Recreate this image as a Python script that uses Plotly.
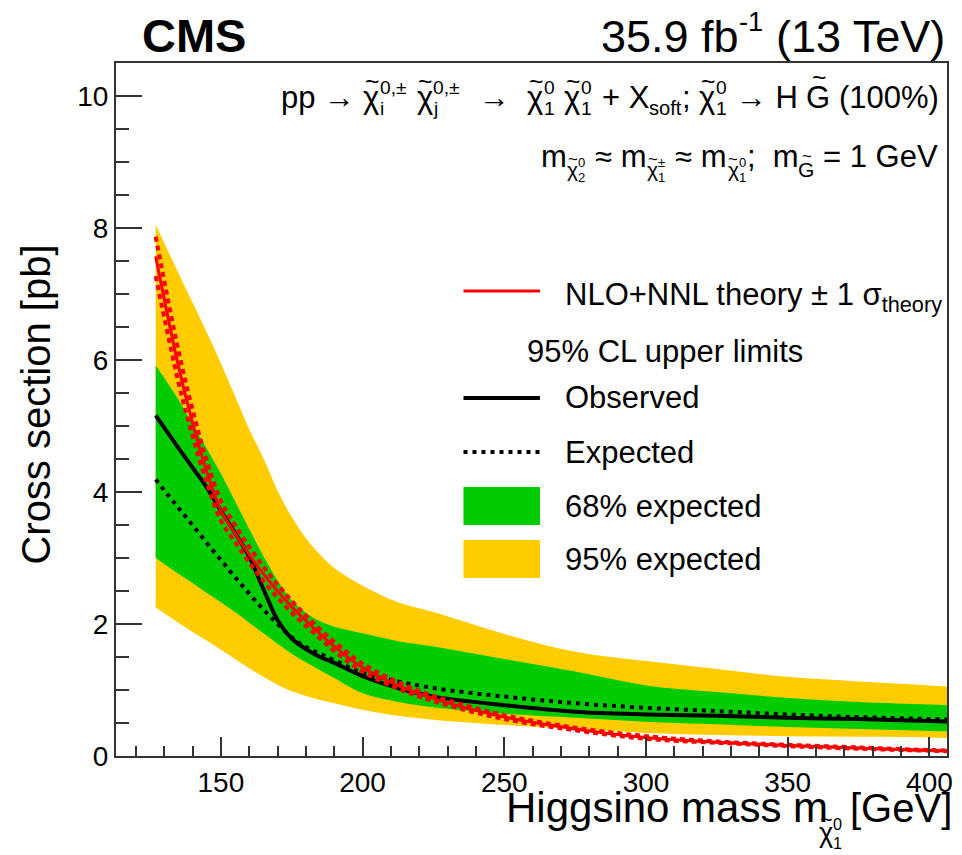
import plotly.graph_objects as go

# ---------------- data (cross sections in pb) ----------------
mass = [127, 135, 140, 145, 150, 155, 160, 165, 170, 175, 180, 185, 190, 200,
        212.5, 225, 250, 275, 300, 325, 350, 375, 400, 410]

exp95_up = [8.05, 7.32, 6.87, 6.42, 5.95, 5.45, 4.95, 4.51, 4.02, 3.62, 3.30, 3.05,
            2.85, 2.58, 2.33, 2.18, 1.85, 1.58, 1.44, 1.32, 1.20, 1.13, 1.07, 1.04]
exp95_down = [2.25, 2.02, 1.88, 1.75, 1.61, 1.47, 1.33, 1.20, 1.08, 0.98, 0.91, 0.85,
              0.80, 0.70, 0.61, 0.55, 0.47, 0.41, 0.35, 0.32, 0.30, 0.29, 0.28, 0.27]
exp68_up = [5.92, 5.40, 5.03, 4.66, 4.28, 3.86, 3.44, 3.03, 2.66, 2.36, 2.17, 2.04,
            1.96, 1.86, 1.74, 1.66, 1.47, 1.28, 1.07, 0.97, 0.88, 0.82, 0.78, 0.76]
exp68_down = [3.00, 2.76, 2.62, 2.47, 2.33, 2.18, 2.02, 1.86, 1.70, 1.55, 1.42, 1.30,
              1.18, 0.95, 0.82, 0.74, 0.64, 0.58, 0.52, 0.48, 0.44, 0.41, 0.38, 0.37]
observed = [5.16, 4.67, 4.37, 4.07, 3.72, 3.38, 3.02, 2.53, 2.06, 1.78, 1.62, 1.50,
            1.41, 1.21, 1.03, 0.90, 0.77, 0.67, 0.63, 0.61, 0.58, 0.56, 0.53, 0.52]
expected = [4.19, 3.76, 3.50, 3.23, 2.97, 2.71, 2.46, 2.22, 2.00, 1.80, 1.65, 1.55,
            1.45, 1.26, 1.13, 1.03, 0.90, 0.80, 0.73, 0.68, 0.63, 0.59, 0.56, 0.55]
theory = [7.57, 5.91, 5.05, 4.31, 3.72, 3.37, 3.05, 2.76, 2.50, 2.26, 2.05, 1.85,
          1.66, 1.34, 1.07, 0.87, 0.59, 0.41, 0.28, 0.21, 0.16, 0.12, 0.085, 0.074]
theory_up = [7.87, 6.15, 5.25, 4.48, 3.87, 3.50, 3.17, 2.87, 2.60, 2.35, 2.13, 1.92,
             1.73, 1.40, 1.12, 0.91, 0.62, 0.43, 0.30, 0.22, 0.17, 0.13, 0.09, 0.08]
theory_down = [7.27, 5.67, 4.85, 4.14, 3.57, 3.24, 2.93, 2.65, 2.40, 2.17, 1.97, 1.78,
               1.59, 1.28, 1.02, 0.83, 0.56, 0.39, 0.26, 0.20, 0.15, 0.11, 0.08, 0.07]

x_ticks = [150, 200, 250, 300, 350, 400]
y_ticks = [0, 2, 4, 6, 8, 10]

# ---------------- styling ----------------
FONT = "Liberation Sans, Arial, Helvetica, sans-serif"
YELLOW = "#FFCC00"
GREEN = "#00CC00"
RED = "#FF0000"
FIG_W, FIG_H = 962, 855
L, R, T, B = 116, 9, 63, 99
PW, PH = FIG_W - L - R, FIG_H - T - B
SMOOTH = 1.0

fig = go.Figure()


def band(lo, hi, color):
    spl = dict(width=0, shape="spline", smoothing=SMOOTH)
    fig.add_trace(go.Scatter(x=mass, y=lo, mode="lines", line=spl,
                             hoverinfo="skip", showlegend=False))
    fig.add_trace(go.Scatter(x=mass, y=hi, mode="lines", line=spl, fill="tonexty",
                             fillcolor=color, hoverinfo="skip", showlegend=False))


band(exp95_down, exp95_up, YELLOW)
band(exp68_down, exp68_up, GREEN)

fig.add_trace(go.Scatter(x=mass, y=expected, mode="lines", showlegend=False,
                         line=dict(color="black", width=4, dash="4px,5px",
                                   shape="spline", smoothing=SMOOTH)))
fig.add_trace(go.Scatter(x=mass, y=observed, mode="lines", showlegend=False,
                         line=dict(color="black", width=4, shape="spline", smoothing=SMOOTH)))
for th in (theory_up, theory_down):
    fig.add_trace(go.Scatter(x=mass, y=th, mode="lines", showlegend=False,
                             line=dict(color=RED, width=4, dash="5px,4px",
                                       shape="spline", smoothing=SMOOTH)))
fig.add_trace(go.Scatter(x=mass, y=theory, mode="lines", showlegend=False,
                         line=dict(color=RED, width=3, shape="spline", smoothing=SMOOTH)))

# ---------------- text helpers (pixel positions on the page) ----------------
annotations = []
shapes = []

CW = {' ': 0.278, 'p': 0.556, 'X': 0.667, 'H': 0.722, 'G': 0.778, '(': 0.333,
      ')': 0.333, '%': 0.889, ';': 0.278, '+': 0.584, 's': 0.5, 'o': 0.556,
      'f': 0.278, 't': 0.278, 'i': 0.222, 'j': 0.222, 'm': 0.833, 'e': 0.556,
      'V': 0.667, '=': 0.584, ',': 0.278, '±': 0.584, '≈': 0.584, '→': 1.0,
      'χ': 0.5, 'T': 0.611, '.': 0.278, 'b': 0.556, '-': 0.333}


def width(t):
    return sum(CW.get(c, 0.556) for c in t)


def ann(x, y, text, size, xanchor="left", angle=0, bold=False):
    annotations.append(dict(
        x=(x - L) / PW, y=(FIG_H - B - y) / PH, xref="paper", yref="paper",
        text=f"<b>{text}</b>" if bold else text, showarrow=False,
        xanchor=xanchor, yanchor="middle",
        borderpad=0, borderwidth=0, textangle=angle,
        font=dict(family=FONT, size=size, color="black")))


def at_base(x, base, text, size, xanchor="left", bold=False):
    ann(x, base - 0.3465 * size, text, size, xanchor=xanchor, bold=bold)


class Row:
    def __init__(self, x, base, size, draw=True):
        self.x, self.base, self.s, self.draw = x, base, size, draw

    def text(self, t, size=None, base=None):
        s = size or self.s
        b = self.base if base is None else base
        core = t.strip(" ")
        if not core:
            self.x += len(t) * CW[" "] * s
            return self
        lead = len(t) - len(t.lstrip(" "))
        trail = len(t) - len(t.rstrip(" "))
        self.x += lead * CW[" "] * s
        if self.draw:
            at_base(self.x, b, core, s)
        self.x += width(core) * s + trail * CW[" "] * s
        return self

    def sup(self, t, k=0.6):
        s = self.s
        if self.draw:
            at_base(self.x + 0.03 * s, self.base - 0.45 * s, t, k * s)
        self.x += width(t) * k * s + 0.06 * s
        return self

    def sub(self, t, k=0.65):
        s = self.s
        if self.draw:
            at_base(self.x + 0.02 * s, self.base + 0.22 * s, t, k * s)
        self.x += width(t) * k * s + 0.03 * s
        return self

    def chi(self, sup, sub, size=None, base=None, k=0.62):
        s = size or self.s
        b = self.base if base is None else base
        if self.draw:
            at_base(self.x, b, "χ", s)
            ann(self.x + 0.28 * s, b - 0.84 * s, "~", 0.8 * s, xanchor="center")
            xs = self.x + 0.54 * s
            at_base(xs, b - 0.45 * s, sup, k * s)
            at_base(xs, b + 0.24 * s, sub, k * s)
        self.x += 0.54 * s + max(width(sup), width(sub)) * k * s + 0.05 * s
        return self

    def gtilde(self, size=None, base=None):
        s = size or self.s
        b = self.base if base is None else base
        if self.draw:
            at_base(self.x, b, "G", s)
            ann(self.x + 0.40 * s, b - 0.98 * s, "~", 0.8 * s, xanchor="center")
        self.x += CW["G"] * s
        return self

    def mchi(self, sup, sub):
        return self.chi(sup, sub, size=0.68 * self.s, base=self.base + 0.32 * self.s)

    def mg(self):
        return self.gtilde(size=0.68 * self.s, base=self.base + 0.32 * self.s)


def header1(row):
    (row.text("pp → ").chi("0,±", "i").text(" ").chi("0,±", "j").text("  →  ")
        .chi("0", "1").text(" ").chi("0", "1").text(" + X").sub("soft").text("; ")
        .chi("0", "1").text(" → H ").gtilde().text(" (100%)"))
    return row


def header2(row):
    (row.text("m").mchi("0", "2").text(" ≈ m").mchi("±", "1").text(" ≈ m")
        .mchi("0", "1").text(";  m").mg().text(" = 1 GeV"))
    return row


def right_aligned(builder, right, base, size):
    w = builder(Row(0, base, size, draw=False)).x
    builder(Row(right - w, base, size))


# process line and mass hierarchy
right_aligned(header1, 944, 108, 31)
right_aligned(header2, 943, 167, 31)


def lumi(row):
    return row.text("35.9 fb").sup("-1").text(" (13 TeV)")


right_aligned(lumi, 956, 52, 45)

# CMS label
at_base(142, 52, "CMS", 47, bold=True)

# axis titles
at_base(509, 822, "Higgsino mass m", 42)
Row(824, 842, 27).chi("0", "1", k=0.6)
at_base(855, 822, "[GeV]", 40)
ann(35, 405, "Cross section [pb]", 40, xanchor="center", angle=-90)

# ---------------- legend ----------------
def px(x):
    return (x - L) / PW


def py(y):
    return (FIG_H - B - y) / PH


def hline(y, color, w, dash="solid"):
    shapes.append(dict(type="line", xref="paper", yref="paper", x0=px(466), x1=px(543),
                       y0=py(y), y1=py(y), line=dict(color=color, width=w, dash=dash)))


def box(y0, y1, color):
    shapes.append(dict(type="rect", xref="paper", yref="paper", x0=px(466), x1=px(543),
                       y0=py(y1), y1=py(y0), fillcolor=color, line=dict(width=0)))


LEG = 31
hline(291, RED, 3)
ann(568, 297, "NLO+NNL theory ± 1 σ<sub>theory</sub>", LEG)
at_base(530, 362, "95% CL upper limits", LEG)
hline(398, "black", 4)
at_base(568, 408, "Observed", LEG)
hline(452, "black", 4, "4px,5px")
at_base(568, 463, "Expected", LEG)
box(487, 525, GREEN)
at_base(568, 517, "68% expected", LEG)
box(540, 578, YELLOW)
at_base(568, 570, "95% expected", LEG)

# ---------------- axes / layout ----------------
axis_common = dict(showgrid=False, zeroline=False, showline=True, linewidth=2,
                   linecolor="#333333", mirror=True, ticks="inside", tickwidth=1.5,
                   tickcolor="#333333", tickfont=dict(family=FONT, size=28, color="black"))

fig.update_layout(
    width=FIG_W, height=FIG_H,
    margin=dict(l=L, r=R, t=T, b=B, pad=0),
    paper_bgcolor="white", plot_bgcolor="white",
    showlegend=False,
    xaxis=dict(range=[113, 406.2], tickmode="array", tickvals=x_ticks,
               ticktext=[str(v) for v in x_ticks], ticklen=19, ticklabelstandoff=0,
               minor=dict(dtick=10, tick0=0, ticklen=10, ticks="inside",
                          tickwidth=1.5, tickcolor="#333333"),
               **axis_common),
    yaxis=dict(range=[0, 10.5], tickmode="array", tickvals=y_ticks,
               ticktext=[str(v) for v in y_ticks], ticklen=26, ticklabelstandoff=0,
               minor=dict(dtick=0.5, tick0=0, ticklen=13, ticks="inside",
                          tickwidth=1.5, tickcolor="#333333"),
               **axis_common),
    annotations=annotations,
    shapes=shapes,
)

fig.write_html("out.html")
